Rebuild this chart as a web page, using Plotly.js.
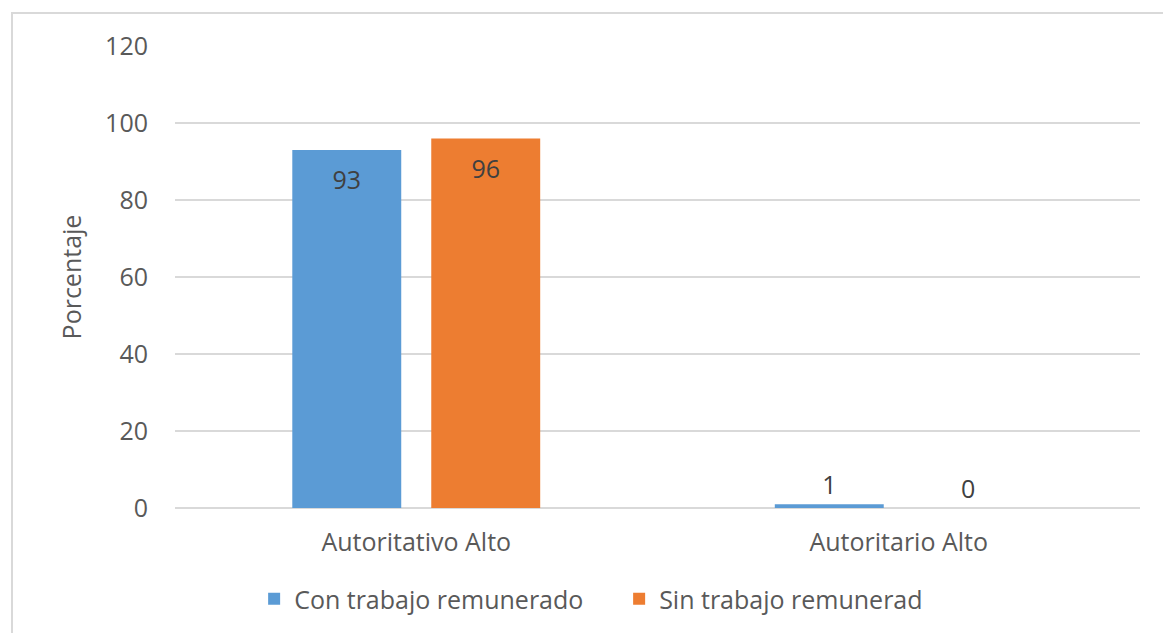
<!DOCTYPE html>
<html>
<head>
<meta charset="utf-8">
<script src="https://cdn.plot.ly/plotly-3.0.1.min.js"></script>
<style>
  html, body { margin: 0; padding: 0; background: #fff; }
  #wrap { position: relative; width: 1163px; height: 633px; overflow: hidden; }
  #chart { width: 1163px; height: 633px; }
  #frame { position: absolute; left: 11px; top: 12px; width: 1200px; height: 700px;
           border: 2px solid #d9d9d9; box-sizing: border-box; pointer-events: none; }
</style>
</head>
<body>
<div id="wrap">
  <div id="chart"></div>
  <div id="frame"></div>
</div>
<script>
const categories = ["Autoritativo Alto", "Autoritario Alto"];
const seriesNames = ["Con trabajo remunerado", "Sin trabajo remunerad"];
const conTrabajo = [93, 1];
const sinTrabajo = [96, 0];
const yTicks = [0, 20, 40, 60, 80, 100, 120];
const colors = ["#5B9BD5", "#ED7D31"];

const font = "Open Sans, Noto Sans, sans-serif";

// big bars: label inside near the top (pushed down a little); small bars: label above
function labelPos(vals) { return vals.map(v => v >= 10 ? "inside" : "outside"); }
function labelText(vals) {
  return vals.map(v => v >= 10
    ? "<span style='font-size:4px'>\u00a0</span><br>" + String(v)
    : String(v));
}

const traces = [conTrabajo, sinTrabajo].map((vals, i) => ({
  type: "bar",
  name: seriesNames[i],
  x: categories,
  y: vals,
  marker: { color: colors[i] },
  text: labelText(vals),
  textposition: labelPos(vals),
  insidetextanchor: "end",
  textangle: 0,
  cliponaxis: false,
  constraintext: "none",
  textfont: { family: font, size: 25, color: "#404040" },
  insidetextfont: { family: font, size: 25, color: "#404040" },
  outsidetextfont: { family: font, size: 25, color: "#404040" },
  hoverinfo: "skip"
}));

const layout = {
  width: 1163, height: 633,
  margin: { l: 175, r: 23, t: 46, b: 125, autoexpand: false },
  paper_bgcolor: "#fff", plot_bgcolor: "#fff",
  barmode: "group",
  bargap: 0.424,
  bargroupgap: 0.216,
  font: { family: font, color: "#595959", size: 25 },
  showlegend: true,
  legend: {
    orientation: "h", x: 0.082, xanchor: "left", y: -0.197, yanchor: "middle",
    font: { family: font, size: 25, color: "#595959" },
    entrywidth: 320, itemwidth: 30, traceorder: "normal"
  },
  xaxis: {
    type: "category", automargin: false,
    showgrid: false, zeroline: false, showline: false, ticks: "",
    tickfont: { family: font, size: 25, color: "#595959" },
    ticklabelstandoff: 17
  },
  yaxis: {
    range: [0, 120], automargin: false,
    tickvals: yTicks,
    ticktext: yTicks.map(String),
    showgrid: true, gridcolor: "#d9d9d9", gridwidth: 2,
    zeroline: true, zerolinecolor: "#d9d9d9", zerolinewidth: 2,
    showline: false, ticks: "",
    tickfont: { family: font, size: 25, color: "#595959" },
    ticklabelstandoff: 26,
    title: { text: "Porcentaje", font: { family: font, size: 25, color: "#595959" }, standoff: 16 }
  }
};

Plotly.newPlot("chart", traces, layout, { displayModeBar: false, staticPlot: true });
</script>
</body>
</html>
